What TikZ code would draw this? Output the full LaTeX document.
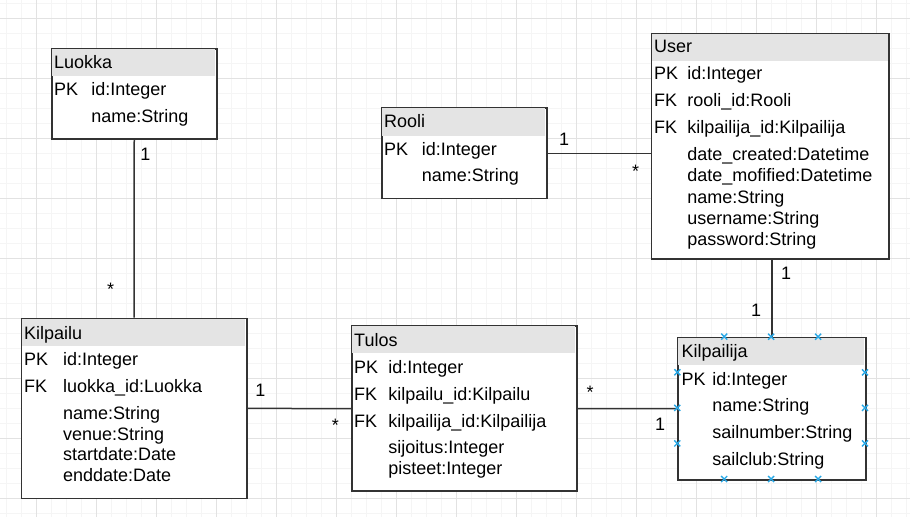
\documentclass[tikz,border=0pt]{standalone}
\usepackage{fontspec}
\setmainfont{Liberation Sans}
\definecolor{gridminor}{HTML}{F5F5F5}
\definecolor{gridmajor}{HTML}{E2E2E2}
\definecolor{hdrgray}{HTML}{E4E4E4}
\definecolor{bordergray}{HTML}{333333}
\definecolor{handleblue}{HTML}{29A8E6}
\tikzset{
  tbl/.style={draw=bordergray, line width=1.5pt, fill=white, inner sep=0pt, anchor=north west},
  hdr/.style={fill=hdrgray},
  txt/.style={inner sep=0pt, anchor=base west, font=\fontsize{18}{21}\selectfont},
  card/.style={inner sep=0pt, anchor=base, font=\fontsize{18}{21}\selectfont},
  conn/.style={draw=bordergray, line width=1.5pt},
  handle/.style={draw=handleblue, line width=1.4pt},
}
% name, left, top, right, bottom, header bottom
\newcommand\ertable[6]{%
  \node[tbl, minimum width={(#4-#2)*1pt}, minimum height={(#5-#3)*1pt}] (#1) at (#2,#3) {};
  \fill[hdr] ({#2+0.8},{#3+0.8}) rectangle ({#4-0.8},#6);
}
\newcommand\hcross[2]{%
  \draw[handle] ({#1-3},{#2-3}) -- ({#1+3},{#2+3}) ({#1-3},{#2+3}) -- ({#1+3},{#2-3});
}
\begin{document}
\begin{tikzpicture}[x=1pt,y=-1pt]
\useasboundingbox (0,0) rectangle (910,517);
\fill[white] (0,0) rectangle (910,517);
% grid
\foreach \i in {0,...,60} \draw[gridminor, line width=1pt] ({6.7+15*\i},0) -- ({6.7+15*\i},517);
\foreach \i in {0,...,34} \draw[gridminor, line width=1pt] (0,{3.3+15*\i}) -- (910,{3.3+15*\i});
\foreach \i in {0,...,14} \draw[gridmajor, line width=1pt] ({36.7+60*\i},0) -- ({36.7+60*\i},517);
\foreach \i in {0,...,8} \draw[gridmajor, line width=1pt] (0,{18.3+60*\i}) -- (910,{18.3+60*\i});

% tables
\ertable{luokka}{51}{48}{216}{138}{76}
\ertable{rooli}{381}{107.3}{546}{197.7}{135.7}
\ertable{user}{650.7}{33.3}{888.3}{258}{60.7}
\ertable{kilpailu}{20.7}{317.7}{246}{497.7}{345.7}
\ertable{tulos}{351}{325.3}{576}{490.3}{352.7}
\ertable{kilpailija}{677.3}{336.7}{865}{479}{365}

% connectors
\draw[conn] (luokka.south) -- (kilpailu.north);
\draw[conn] (kilpailu.east) -- (tulos.west);
\draw[conn] (tulos.east) -- (kilpailija.west);
\draw[conn] (rooli.east) -- (rooli.east -| user.west);
\draw[conn] (kilpailija.north |- user.south) -- (kilpailija.north);

% Luokka
\node[txt] (lk0) at (54,68.3) {Luokka};
\node[txt] (lk1k) at (54,95) {PK};
\node[txt] (lk1) at (91.2,95) {id:Integer};
\node[txt] (lk2) at (91.2,122) {name:String};

% Rooli
\node[txt] (ro0) at (384,127.7) {Rooli};
\node[txt] (ro1k) at (384,155) {PK};
\node[txt] (ro1) at (421.6,155) {id:Integer};
\node[txt] (ro2) at (421.6,181.7) {name:String};

% User
\node[txt] (us0) at (654,52.7) {User};
\node[txt] (us1k) at (654,79.3) {PK};
\node[txt] (us1) at (687.2,79.3) {id:Integer};
\node[txt] (us2k) at (654,106.7) {FK};
\node[txt] (us2) at (687.2,106.7) {rooli\_id:Rooli};
\node[txt] (us3k) at (654,133.3) {FK};
\node[txt] (us3) at (687.2,133.3) {kilpailija\_id:Kilpailija};
\node[txt] (us4) at (687.2,160) {date\_created:Datetime};
\node[txt] (us5) at (687.2,181.7) {date\_mofified:Datetime};
\node[txt] (us6) at (687.2,203.3) {name:String};
\node[txt] (us7) at (687.2,224) {username:String};
\node[txt] (us8) at (687.2,245) {password:String};

% Kilpailu
\node[txt] (ki0) at (24,339) {Kilpailu};
\node[txt] (ki1k) at (24,365) {PK};
\node[txt] (ki1) at (62.9,365) {id:Integer};
\node[txt] (ki2k) at (24,392.3) {FK};
\node[txt] (ki2) at (62.9,392.3) {luokka\_id:Luokka};
\node[txt] (ki3) at (62.9,419) {name:String};
\node[txt] (ki4) at (62.9,440) {venue:String};
\node[txt] (ki5) at (62.9,460.7) {startdate:Date};
\node[txt] (ki6) at (62.9,481.7) {enddate:Date};

% Tulos
\node[txt] (tu0) at (354,346) {Tulos};
\node[txt] (tu1k) at (354,373.3) {PK};
\node[txt] (tu1) at (388.2,373.3) {id:Integer};
\node[txt] (tu2k) at (354,400.7) {FK};
\node[txt] (tu2) at (388.2,400.7) {kilpailu\_id:Kilpailu};
\node[txt] (tu3k) at (354,427.3) {FK};
\node[txt] (tu3) at (388.2,427.3) {kilpailija\_id:Kilpailija};
\node[txt] (tu4) at (388.2,453.3) {sijoitus:Integer};
\node[txt] (tu5) at (388.2,474.3) {pisteet:Integer};

% Kilpailija
\node[txt] (kj0) at (681.3,357.3) {Kilpailija};
\node[txt] (kj1k) at (681.3,385) {PK};
\node[txt] (kj1) at (712.2,385) {id:Integer};
\node[txt] (kj2) at (712.2,411.7) {name:String};
\node[txt] (kj3) at (712.2,438.3) {sailnumber:String};
\node[txt] (kj4) at (712.2,465.7) {sailclub:String};

% cardinalities
\node[card] (c1) at (564,145) {1};
\node[card] (c2) at (635.7,177) {*};
\node[card] (c3) at (145.5,160) {1};
\node[card] (c4) at (110.7,295) {*};
\node[card] (c5) at (260.5,396.7) {1};
\node[card] (c6) at (335.3,431) {*};
\node[card] (c7) at (590,398.6) {*};
\node[card] (c8) at (660,430) {1};
\node[card] (c9) at (786,279.3) {1};
\node[card] (c10) at (756,316) {1};

% connection handles on Kilpailija
\foreach \f in {0.25,0.5,0.75} {
  \hcross{677.3+187.7*\f}{336.7}
  \hcross{677.3+187.7*\f}{479}
  \hcross{677.3}{336.7+142.3*\f}
  \hcross{865}{336.7+142.3*\f}
}
\end{tikzpicture}
\end{document}
